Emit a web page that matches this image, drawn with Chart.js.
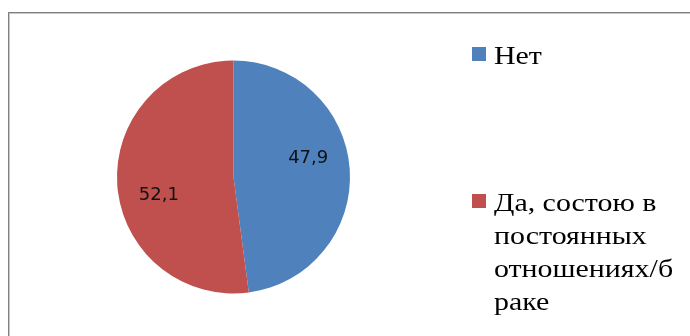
<!DOCTYPE html>
<html>
<head>
<meta charset="utf-8">
<script src="https://cdn.jsdelivr.net/npm/chart.js@4"></script>
<style>
    html, body { margin: 0; padding: 0; background: #fff; }
    #wrap { position: relative; width: 690px; height: 336px; overflow: hidden; }
    #frame {
        position: absolute; left: 8px; top: 12px; width: 700px; height: 360px;
        border: 1px solid #7f7f7f; box-shadow: inset 1px 1px 0 #c8c8c8;
    }
    #pieChart { position: absolute; left: 0; top: 0; }
</style>
</head>
<body>
<div id="wrap">
    <div id="frame"></div>
    <canvas id="pieChart" width="690" height="336"></canvas>
</div>
<script>
const categories = ['Нет', 'Да, состою в постоянных отношениях/браке'];
const values = [47.9, 52.1];
const colors = ['#4F81BD', '#C0504D'];

// value labels inside the slices
const sliceLabels = {
    id: 'sliceLabels',
    afterDatasetsDraw(chart) {
        const ctx = chart.ctx;
        const shift = -10 * Math.PI / 180;
        ctx.save();
        ctx.font = '18px "DejaVu Sans"';
        ctx.fillStyle = '#111';
        ctx.textAlign = 'center';
        ctx.textBaseline = 'middle';
        chart.getDatasetMeta(0).data.forEach((arc, i) => {
            const p = arc.getProps(['x', 'y', 'startAngle', 'endAngle', 'outerRadius'], true);
            const mid = (p.startAngle + p.endAngle) / 2 + shift;
            const r = p.outerRadius * 0.66;
            const txt = values[i].toFixed(1).replace('.', ',');
            ctx.fillText(txt, p.x + Math.cos(mid) * r, p.y + Math.sin(mid) * r);
        });
        ctx.restore();
    }
};

// right side legend, wrapped like the office one
const sideLegend = {
    id: 'sideLegend',
    afterDraw(chart) {
        const ctx = chart.ctx;
        const boxX = 472, box = 14, textX = 494;
        const itemTop = [47, 194];
        const lineH = 33;
        const sx = 1.15;
        const maxW = 185;
        ctx.save();
        ctx.font = '26px "Liberation Serif"';
        ctx.fillStyle = '#000';
        ctx.textBaseline = 'alphabetic';

        const fits = s => ctx.measureText(s).width * sx <= maxW;
        const wrap = text => {
            const lines = [];
            let line = '';
            text.split(' ').forEach(word => {
                const test = line ? line + ' ' + word : word;
                if (fits(test)) { line = test; return; }
                if (line) lines.push(line);
                line = '';
                let w = word;
                while (!fits(w)) {
                    let k = w.length;
                    while (k > 1 && !fits(w.slice(0, k))) k--;
                    lines.push(w.slice(0, k));
                    w = w.slice(k);
                }
                line = w;
            });
            if (line) lines.push(line);
            return lines;
        };

        categories.forEach((name, i) => {
            const top = itemTop[i];
            ctx.fillStyle = colors[i];
            ctx.fillRect(boxX, top, box, box);
            ctx.fillStyle = '#000';
            wrap(name).forEach((ln, j) => {
                ctx.save();
                ctx.translate(textX, top + 17 + j * lineH);
                ctx.scale(sx, 1);
                ctx.fillText(ln, 0, 0);
                ctx.restore();
            });
        });
        ctx.restore();
    }
};

new Chart(document.getElementById('pieChart'), {
    type: 'pie',
    data: {
        labels: categories,
        datasets: [{
            data: values,
            backgroundColor: colors,
            borderWidth: 0
        }]
    },
    options: {
        responsive: false,
        animation: false,
        devicePixelRatio: 1,
        layout: {
            padding: { left: 117, right: 340, top: 60, bottom: 42 }
        },
        plugins: {
            legend: { display: false },
            tooltip: { enabled: false }
        }
    },
    plugins: [sliceLabels, sideLegend]
});
</script>
</body>
</html>
